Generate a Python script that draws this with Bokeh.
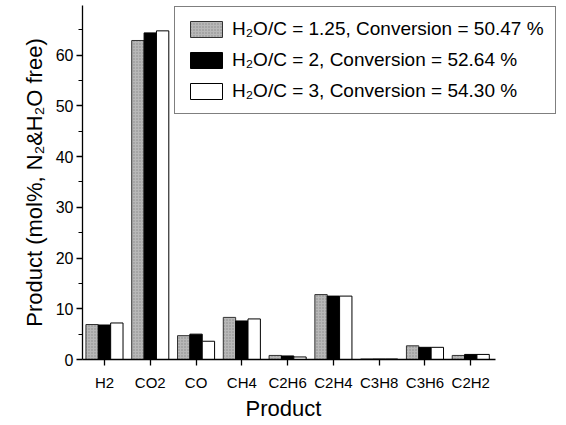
from bokeh.plotting import figure
from bokeh.models import ColumnDataSource, FixedTicker, Legend, LegendItem, Range1d, Title
from bokeh.transform import dodge
from bokeh.embed import file_html
from bokeh.resources import INLINE

products = ["H2", "CO2", "CO", "CH4", "C2H6", "C2H4", "C3H8", "C3H6", "C2H2"]
ratio_125 = [6.9, 62.9, 4.7, 8.3, 0.8, 12.8, 0.1, 2.7, 0.8]
ratio_2 = [6.8, 64.4, 5.0, 7.6, 0.7, 12.5, 0.1, 2.4, 1.0]
ratio_3 = [7.2, 64.8, 3.6, 8.0, 0.5, 12.5, 0.1, 2.4, 1.0]
labels = ["H\u2082O/C = 1.25, Conversion = 50.47 %",
          "H\u2082O/C = 2, Conversion = 52.64 %",
          "H\u2082O/C = 3, Conversion = 54.30 %"]

xpos = list(range(1, len(products) + 1))
src = ColumnDataSource(dict(x=xpos, a=ratio_125, b=ratio_2, c=ratio_3))

FONT = "Liberation Sans Narrow, Liberation Sans, Arial, sans-serif"

p = figure(width=566, height=425, output_backend="svg", toolbar_location=None,
           x_range=Range1d(0.52, 10.96), y_range=Range1d(0, 69.8),
           min_border_left=82, min_border_right=6, min_border_top=5, min_border_bottom=66)
p.outline_line_color = None
p.grid.grid_line_color = None
p.background_fill_color = "white"

w = 0.27
r1 = p.vbar(x=dodge("x", -0.27, range=p.x_range), top="a", width=w, source=src,
            fill_color="#b8b8b8", line_color="#333333", line_width=1,
            hatch_pattern="dot", hatch_color="#666666", hatch_scale=3, hatch_alpha=0.6)
r2 = p.vbar(x=dodge("x", 0.0, range=p.x_range), top="b", width=w, source=src,
            fill_color="black", line_color="black", line_width=1)
r3 = p.vbar(x=dodge("x", 0.27, range=p.x_range), top="c", width=w, source=src,
            fill_color="white", line_color="black", line_width=1)

p.xaxis.ticker = FixedTicker(ticks=xpos)
p.xaxis.major_label_overrides = {i: n for i, n in zip(xpos, products)}
p.xaxis.minor_tick_line_color = None
p.xaxis.bounds = (0.52, 9.54)
p.yaxis.ticker = FixedTicker(ticks=[0, 10, 20, 30, 40, 50, 60],
                             minor_ticks=[5, 15, 25, 35, 45, 55, 65])

for ax in (p.xaxis[0], p.yaxis[0]):
    ax.axis_line_color = "black"
    ax.axis_line_width = 1.3
    ax.major_tick_line_color = "black"
    ax.major_tick_line_width = 1.3
    ax.major_tick_out = 6
    ax.major_tick_in = 0
    ax.major_label_text_font = FONT
    ax.major_label_text_color = "black"
    ax.axis_label_text_font = FONT
    ax.axis_label_text_font_style = "normal"
    ax.axis_label_text_color = "black"
    ax.axis_label_text_font_size = "22px"

p.xaxis.major_label_text_font_size = "15px"
p.yaxis.major_label_text_font_size = "16px"
p.yaxis.minor_tick_out = 4
p.yaxis.minor_tick_in = 0
p.yaxis.minor_tick_line_color = "black"
p.yaxis.major_label_standoff = 3
p.xaxis.major_label_standoff = 8
p.yaxis.axis_label = "Product (mol%, N\u2082&H\u2082O free)"
p.yaxis.axis_label_standoff = 6

xtitle = Title(text="Product", align="left", offset=163, standoff=0,
               text_font=FONT, text_font_size="22px", text_font_style="normal",
               text_color="black")
p.add_layout(xtitle, "below")

legend = Legend(items=[LegendItem(label=labels[0], renderers=[r1]),
                       LegendItem(label=labels[1], renderers=[r2]),
                       LegendItem(label=labels[2], renderers=[r3])],
                location=(92, 245))
legend.label_text_font = FONT
legend.label_text_font_size = "19px"
legend.label_text_color = "black"
legend.border_line_color = "black"
legend.border_line_width = 1
legend.glyph_width = 40
legend.glyph_height = 20
legend.spacing = 9
legend.padding = 11
legend.margin = 0
legend.label_standoff = 6
legend.background_fill_alpha = 1
p.add_layout(legend, "center")

open("out.html", "w").write(file_html(p, INLINE))
